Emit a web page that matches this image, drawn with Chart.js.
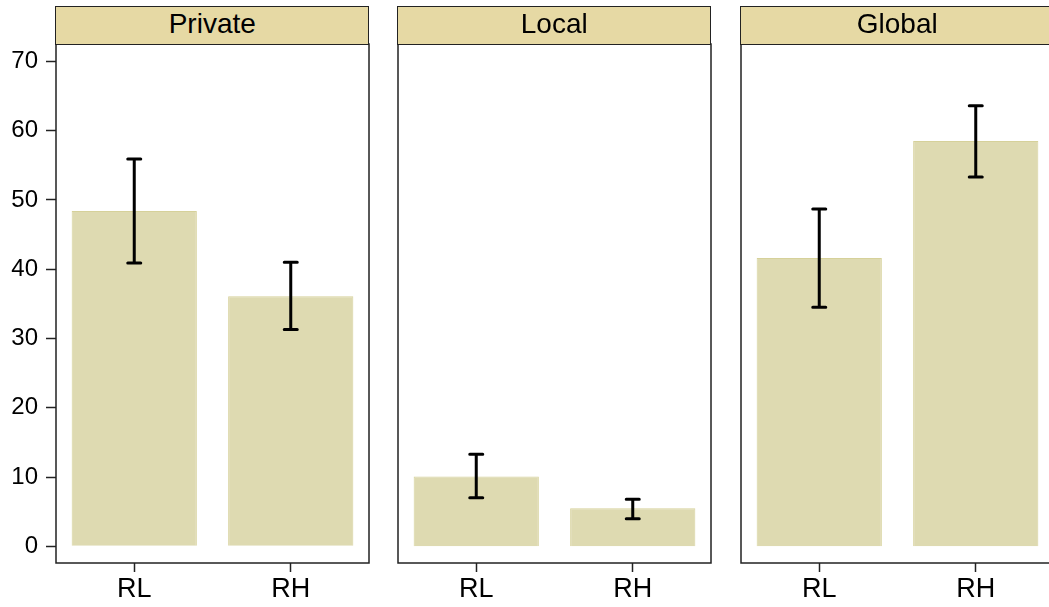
<!DOCTYPE html>
<html>
<head>
<meta charset="utf-8">
<script src="https://cdn.jsdelivr.net/npm/chart.js@4.4.1/dist/chart.umd.min.js"></script>
<style>
    html, body { margin: 0; padding: 0; background: #fff; overflow: hidden; }
    #wrap { position: relative; width: 1049px; height: 607px; overflow: hidden; }
    canvas { position: absolute; }
    .strip {
        position: absolute; top: 6px; height: 38.5px; width: 314px; box-sizing: border-box;
        background: #E6D9A4; border: 1.5px solid #222;
        font-family: "Liberation Sans", Arial, sans-serif; font-size: 28px; color: #000;
        text-align: center; line-height: 33px;
    }
</style>
</head>
<body>
<div id="wrap">
    <canvas id="c0" width="372" height="567" style="left:0px; top:40px;"></canvas>
    <canvas id="c1" width="319" height="567" style="left:395px; top:40px;"></canvas>
    <canvas id="c2" width="319" height="567" style="left:738px; top:40px;"></canvas>
</div>
<script>
// ===========================
// DATA
// ===========================
const panelNames = ['Private', 'Local', 'Global'];
const categories = ['RL', 'RH'];
const yTicks = [0, 10, 20, 30, 40, 50, 60, 70];

const privateMeans = [48.4, 36.1];
const privateLow = [40.9, 31.3];
const privateHigh = [55.9, 41.0];

const localMeans = [10.1, 5.5];
const localLow = [7.0, 4.0];
const localHigh = [13.3, 6.8];

const globalMeans = [41.6, 58.5];
const globalLow = [34.5, 53.3];
const globalHigh = [48.7, 63.6];

const yMin = -2.4;
const yMax = 72.5;

const barFill = '#DEDAB1';
const barEdge = '#D6D19A';
const frameColor = '#222';
const fontFamily = '"Liberation Sans", Arial, sans-serif';

// Panel frame + error bars
const panelPlugin = {
    id: 'panelPlugin',
    afterDatasetsDraw(chart) {
        const ctx = chart.ctx;
        const area = chart.chartArea;
        const yScale = chart.scales.y;
        const meta = chart.getDatasetMeta(0);
        const low = chart.options.plugins.panelPlugin.low;
        const high = chart.options.plugins.panelPlugin.high;

        ctx.save();
        ctx.strokeStyle = '#000';
        ctx.lineWidth = 3;
        ctx.lineCap = 'round';
        meta.data.forEach((bar, i) => {
            const yLo = yScale.getPixelForValue(low[i]);
            const yHi = yScale.getPixelForValue(high[i]);
            ctx.beginPath();
            ctx.moveTo(bar.x, yLo);
            ctx.lineTo(bar.x, yHi);
            ctx.moveTo(bar.x - 6.5, yLo);
            ctx.lineTo(bar.x + 6.5, yLo);
            ctx.moveTo(bar.x - 6.5, yHi);
            ctx.lineTo(bar.x + 6.5, yHi);
            ctx.stroke();
        });

        ctx.strokeStyle = frameColor;
        ctx.lineWidth = 1.5;
        ctx.lineCap = 'butt';
        ctx.strokeRect(area.left, area.top, area.right - area.left, area.bottom - area.top);
        ctx.restore();
    }
};

function makePanel(canvasId, name, left, means, low, high, showY) {
    const strip = document.createElement('div');
    strip.className = 'strip';
    strip.style.left = (left - 0.75) + 'px';
    strip.textContent = name;
    document.getElementById('wrap').appendChild(strip);

    const ctx = document.getElementById(canvasId).getContext('2d');
    return new Chart(ctx, {
        type: 'bar',
        data: {
            labels: categories,
            datasets: [{
                data: means,
                backgroundColor: barFill,
                borderColor: barEdge,
                borderWidth: 1,
                barPercentage: 0.8,
                categoryPercentage: 1.0
            }]
        },
        options: {
            responsive: false,
            animation: false,
            devicePixelRatio: 1,
            layout: { padding: { top: 4, left: showY ? 0 : 3, right: 3, bottom: 0 } },
            plugins: {
                legend: { display: false },
                tooltip: { enabled: false },
                panelPlugin: { low: low, high: high }
            },
            scales: {
                x: {
                    offset: true,
                    border: { display: false },
                    grid: { display: true, offset: false, drawOnChartArea: false, drawTicks: true, tickLength: 9, tickColor: frameColor, tickWidth: 1.5 },
                    ticks: { color: '#000', padding: 1, font: { family: fontFamily, size: 27 } },
                    afterFit: s => { s.height = 44; s.paddingLeft = 0; s.paddingRight = 0; }
                },
                y: {
                    display: showY,
                    min: yMin,
                    max: yMax,
                    border: { display: false },
                    afterBuildTicks: s => { s.ticks = yTicks.map(v => ({ value: v })); },
                    grid: { display: true, drawOnChartArea: false, drawTicks: true, tickLength: 10, tickColor: frameColor, tickWidth: 1.5 },
                    ticks: { color: '#000', padding: 8, font: { family: fontFamily, size: 24 } },
                    afterFit: s => {
                        s.paddingTop = 0;
                        s.paddingBottom = 0;
                        if (showY) s.width = 56;
                    }
                }
            }
        },
        plugins: [panelPlugin]
    });
}

makePanel('c0', panelNames[0], 56, privateMeans, privateLow, privateHigh, true);
makePanel('c1', panelNames[1], 398, localMeans, localLow, localHigh, false);
makePanel('c2', panelNames[2], 741, globalMeans, globalLow, globalHigh, false);
</script>
</body>
</html>
